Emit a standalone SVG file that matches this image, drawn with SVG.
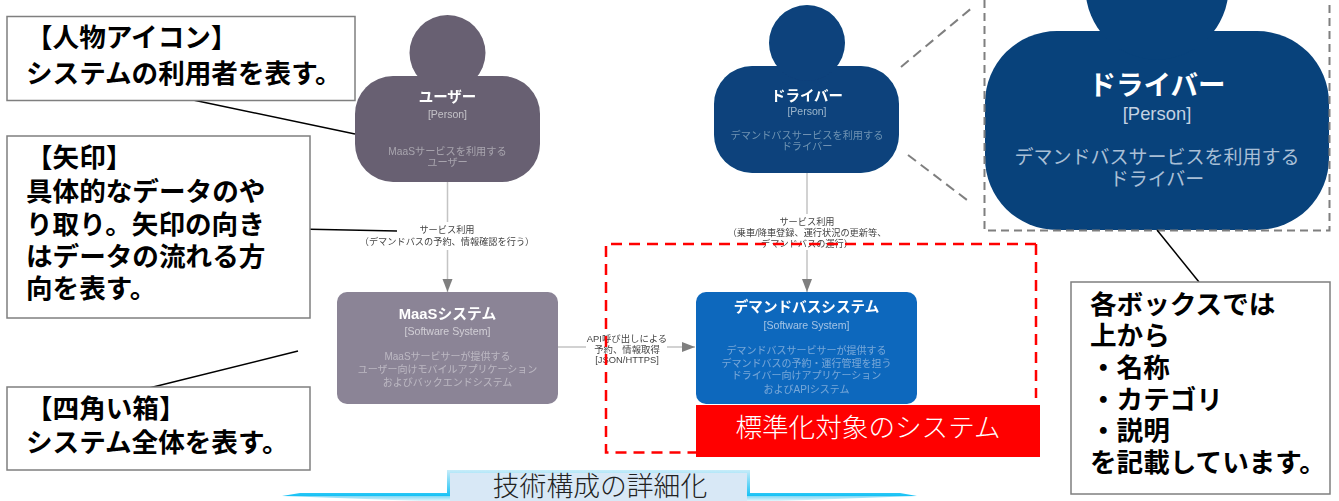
<svg xmlns="http://www.w3.org/2000/svg" width="1339" height="501" viewBox="0 0 1339 501">
<style>
text{font-family:"Liberation Sans","Noto Sans CJK JP",sans-serif;text-anchor:middle}
.soft{filter:url(#b)}
.t{font-weight:700;fill:#fff}
.c{fill:#fff;fill-opacity:.6}
.d{fill:#fff;fill-opacity:.42}
.e{fill:#444;font-size:9.200px}
.call{fill:#fff;stroke:#7f7f7f;stroke-width:1.500}
.callt{font-weight:700;font-size:26.600px;fill:#000;text-anchor:start}
.lead{stroke:#000;stroke-width:1.500;fill:none}
.conn{stroke:#c4c4c4;stroke-width:1.500;fill:none}
.gd{stroke:#7f7f7f;stroke-width:2;stroke-dasharray:10 6;fill:none}
</style>
<defs>
<filter id="b" x="-5%" y="-5%" width="110%" height="110%"><feGaussianBlur stdDeviation="0.55"/></filter>
<linearGradient id="ban" gradientUnits="userSpaceOnUse" x1="0" y1="470" x2="0" y2="497"><stop offset="0" stop-color="#c8ecf9"/><stop offset="1" stop-color="#0fc0f5"/></linearGradient>
<linearGradient id="ban2" gradientUnits="userSpaceOnUse" x1="0" y1="496" x2="0" y2="501"><stop offset="0" stop-color="#7fd8f5"/><stop offset="1" stop-color="#e4f5fb"/></linearGradient>
<marker id="ah" markerUnits="userSpaceOnUse" markerWidth="14" markerHeight="12" refX="13" refY="5" orient="auto"><path d="M0 0L13 5L0 10Z" fill="#7f7f7f"/></marker>
</defs>

<g id="connectors">
<path class="conn" d="M447.500 182V222M447.500 250V292" marker-end="url(#ah)"/>
<path class="conn" d="M807 173V214M807 250V292" marker-end="url(#ah)"/>
<path class="conn" d="M558 347H586M667 347H695" marker-end="url(#ah)"/>
<g class="soft">
<text class="e" x="447" y="233">サービス利用<tspan x="447" dy="12">（デマンドバスの予約、情報確認を行う）</tspan></text>
<text class="e" x="807" y="225">サービス利用<tspan x="807" dy="11">（乗車/降車登録、運行状況の更新等、</tspan><tspan x="807" dy="11">デマンドバスの運行）</tspan></text>
<text class="e" x="627" y="342" style="font-size:9.400px">API呼び出しによる<tspan x="627" dy="10.500">予約、情報取得</tspan><tspan x="627" dy="10.500">[JSON/HTTPS]</tspan></text>
</g>
</g>

<g id="user" class="soft">
<rect x="355" y="76" width="185" height="106" rx="38" fill="#686172"/>
<circle cx="447.500" cy="53" r="38" fill="#686172"/>
<text class="t" x="447.500" y="102" font-size="14.500">ユーザー</text>
<text class="c" x="447.500" y="118" font-size="10.500">[Person]</text>
<text class="d" x="447.500" y="155" font-size="10.200">MaaSサービスを利用する<tspan x="447.500" dy="11">ユーザー</tspan></text>
</g>

<g id="driver" class="soft">
<rect x="714" y="66" width="185" height="107" rx="38" fill="#08427b"/>
<circle cx="807" cy="43" r="38" fill="#08427b"/>
<text class="t" x="807" y="101" font-size="14.500">ドライバー</text>
<text class="c" x="807" y="115" font-size="10.500">[Person]</text>
<text class="d" x="807" y="139" font-size="10.200">デマンドバスサービスを利用する<tspan x="807" dy="11">ドライバー</tspan></text>
</g>

<g id="maas" class="soft">
<rect x="337" y="292" width="221" height="112" rx="10" fill="#8b8496"/>
<text class="t" x="447.500" y="319" font-size="14.800">MaaSシステム</text>
<text class="c" x="447.500" y="335" font-size="10.600">[Software System]</text>
<text class="d" x="447.500" y="360" font-size="10">MaaSサービサーが提供する<tspan x="447.500" dy="13">ユーザー向けモバイルアプリケーション</tspan><tspan x="447.500" dy="13">およびバックエンドシステム</tspan></text>
</g>

<g id="demand" class="soft">
<rect x="696" y="292" width="221" height="112" rx="10" fill="#1168bd"/>
<text class="t" x="806.500" y="312" font-size="14.600">デマンドバスシステム</text>
<text class="c" x="806.500" y="329" font-size="10.600">[Software System]</text>
<text class="d" x="806.500" y="354" font-size="10">デマンドバスサービサーが提供する<tspan x="806.500" dy="12.500">デマンドバスの予約・運行管理を担う</tspan><tspan x="806.500" dy="12.500">ドライバー向けアプリケーション</tspan><tspan x="806.500" dy="13.500">およびAPIシステム</tspan></text>
</g>

<g id="scope">
<path d="M1036 244H606V452.500H696M1036 244V398" fill="none" stroke="#f00" stroke-width="2.500" stroke-dasharray="11 7"/>
</g>
<g id="scope-label">
<rect x="696" y="405" width="344" height="52" fill="#f00"/>
<text x="868" y="437" font-size="26.600" font-weight="300" fill="#fff">標準化対象のシステム</text>
</g>

<g id="zoom-guides">
<path class="gd" d="M901 67L973 7M908 155L967 200"/>
</g>
<g id="driver-zoom">
<rect x="985" y="31" width="344" height="199" rx="72" fill="#08427b"/>
<circle cx="1157" cy="-12" r="71.500" fill="#08427b"/>
<text x="1157" y="95" font-size="27.500" font-weight="700" fill="#fff">ドライバー</text>
<text x="1157" y="120" font-size="18.400" fill="#c4d2e2">[Person]</text>
<text x="1157" y="164" font-size="19" fill="#a9bfd6">デマンドバスサービスを利用する<tspan x="1157" dy="22">ドライバー</tspan></text>
<path d="M984.500 0V230.500H1329.500V0" fill="none" stroke="#7f7f7f" stroke-width="2" stroke-dasharray="8 5"/>
</g>

<g id="callout-person">
<path class="lead" d="M193 100L355 134"/>
<rect class="call" x="7" y="16.500" width="348" height="84"/>
<text class="callt" x="26" y="47">【人物アイコン】</text>
<text class="callt" x="26" y="83">システムの利用者を表す。</text>
</g>
<g id="callout-arrow">
<path class="lead" d="M298 229L397 231"/>
<rect class="call" x="7" y="136" width="303" height="182"/>
<text class="callt" x="26" y="167">【矢印】</text>
<text class="callt" x="26" y="201">具体的なデータのや</text>
<text class="callt" x="26" y="234">り取り。矢印の向き</text>
<text class="callt" x="26" y="266">はデータの流れる方</text>
<text class="callt" x="26" y="298">向を表す。</text>
</g>
<g id="callout-box">
<path class="lead" d="M145 389L298 351"/>
<rect class="call" x="7" y="387" width="303" height="83"/>
<text class="callt" x="26" y="418">【四角い箱】</text>
<text class="callt" x="26" y="452">システム全体を表す。</text>
</g>
<g id="callout-fields">
<path class="lead" d="M1157 230L1199 282"/>
<rect class="call" x="1071" y="282" width="259" height="212"/>
<text class="callt" x="1090" y="314">各ボックスでは</text>
<text class="callt" x="1090" y="345">上から</text>
<text class="callt" x="1090" y="377">・名称</text>
<text class="callt" x="1090" y="409">・カテゴリ</text>
<text class="callt" x="1090" y="440">・説明</text>
<text class="callt" x="1090" y="472">を記載しています。</text>
</g>

<g id="banner">
<path d="M282 496L420 501H780L917 496Z" fill="url(#ban2)"/>
<path d="M282 496L300 493H447V470H750V493H900L917 496Z" fill="url(#ban)"/>
<rect x="450" y="473" width="297" height="28" fill="#d8e8f6"/>
<text x="600" y="496" font-size="26.800" font-weight="300" fill="#222">技術構成の詳細化</text>
</g>
</svg>
